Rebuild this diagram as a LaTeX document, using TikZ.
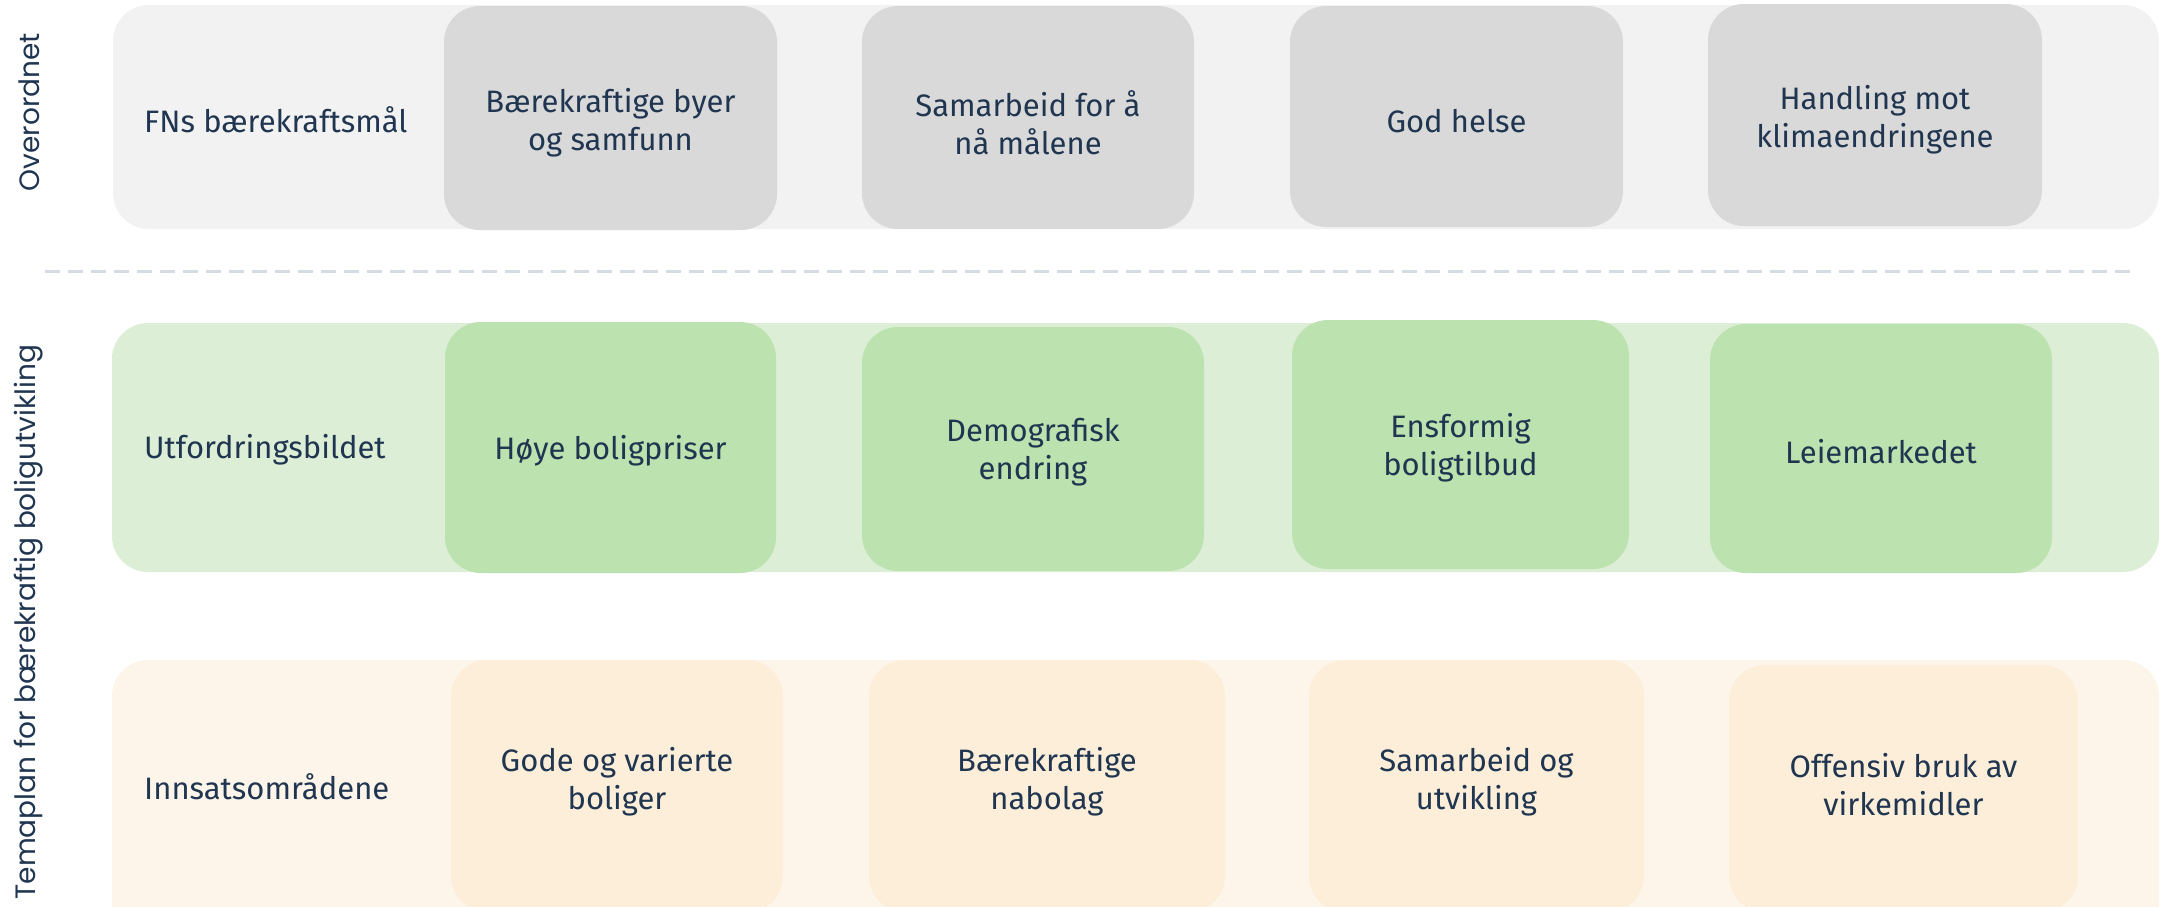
\documentclass[tikz,border=0pt]{standalone}
\usepackage{fontspec}
\setmainfont{Fira Sans}
\newfontfamily\vfont{Poppins}
\definecolor{txt}{HTML}{1F3550}
\definecolor{grayband}{HTML}{F2F2F2}
\definecolor{graybox}{HTML}{D9D9D9}
\definecolor{greenband}{HTML}{DDEED6}
\definecolor{greenbox}{HTML}{BCE2AF}
\definecolor{orangeband}{HTML}{FDF5EA}
\definecolor{orangebox}{HTML}{FDEEDA}
\definecolor{dashcol}{HTML}{D5DCE4}
\tikzset{
  boxtext/.style={text=txt, font=\fontsize{31}{38}\selectfont, align=center},
  rowlabel/.style={text=txt, font=\fontsize{31}{38}\selectfont, anchor=west, inner sep=0pt},
  sidelabel/.style={text=txt, font=\vfont\fontsize{28}{32}\selectfont, rotate=90, inner sep=0pt},
}
\newcommand{\boxat}[6]{% name, x1, x2, y1, y2, colour
  \fill[#6, rounded corners=36pt] (#2,-#4) rectangle (#3,-#5);
  \coordinate (#1) at ({(#2+#3)/2},{-(#4+#5)/2});
}
\begin{document}
\begin{tikzpicture}[x=1pt,y=1pt]
\useasboundingbox (0,0) rectangle (2164,-906);
\clip (0,0) rectangle (2164,-906);
% bands
\boxat{band1}{113}{2159}{5}{229}{grayband}
\boxat{band2}{112}{2159}{323}{572}{greenband}
\boxat{band3}{112}{2159}{660}{940}{orangeband}
% top boxes
\boxat{t1}{444}{777}{6}{230}{graybox}
\boxat{t2}{862}{1194}{6}{229}{graybox}
\boxat{t3}{1290}{1623}{6}{227}{graybox}
\boxat{t4}{1708}{2042}{4}{226}{graybox}
% middle boxes
\boxat{m1}{445}{776}{322}{573}{greenbox}
\boxat{m2}{862}{1204}{327}{571}{greenbox}
\boxat{m3}{1292}{1629}{320}{569}{greenbox}
\boxat{m4}{1710}{2052}{324}{573}{greenbox}
% bottom boxes
\boxat{b1}{451}{783}{660}{912}{orangebox}
\boxat{b2}{869}{1225}{660}{912}{orangebox}
\boxat{b3}{1309}{1644}{660}{912}{orangebox}
\boxat{b4}{1729}{2078}{665}{912}{orangebox}
% dashed separator
\coordinate (dl) at (45,-271);
\coordinate (dr) at (2135,-271);
\draw[dashcol, line width=3pt, dash pattern=on 15pt off 8pt] (dl) -- (dr);
% row labels
\node[rowlabel] (l1) at (144,-120) {FNs bærekraftsmål};
\node[rowlabel] (l2) at (144,-450) {Utfordringsbildet};
\node[rowlabel] (l3) at (144,-787) {Innsatsområdene};
% box texts
\node[boxtext] (tt1) at ([yshift=-5pt]t1) {Bærekraftige byer\\og samfunn};
\node[boxtext] (tt2) at ([yshift=-5pt]t2) {Samarbeid for å\\nå målene};
\node[boxtext] (tt3) at ([yshift=-5pt]t3) {God helse};
\node[boxtext] (tt4) at ([yshift=-5pt]t4) {Handling mot\\klimaendringene};
\node[boxtext] (mt1) at ([yshift=-3pt]m1) {Høye boligpriser};
\node[boxtext] (mt2) at ([yshift=-3pt]m2) {Demografisk\\endring};
\node[boxtext] (mt3) at ([yshift=-3pt]m3) {Ensformig\\boligtilbud};
\node[boxtext] (mt4) at ([yshift=-3pt]m4) {Leiemarkedet};
\node[boxtext] (bt1) at ([yshift=4pt]b1) {Gode og varierte\\boliger};
\node[boxtext] (bt2) at ([yshift=4pt]b2) {Bærekraftige\\nabolag};
\node[boxtext] (bt3) at ([yshift=4pt]b3) {Samarbeid og\\utvikling};
\node[boxtext] (bt4) at ([yshift=4pt]b4) {Offensiv bruk av\\virkemidler};
% side labels
\node[sidelabel] (s1) at (29,-112) {Overordnet};
\node[sidelabel] (s2) at (29,-622) {Temaplan for bærekraftig boligutvikling};
\end{tikzpicture}
\end{document}
